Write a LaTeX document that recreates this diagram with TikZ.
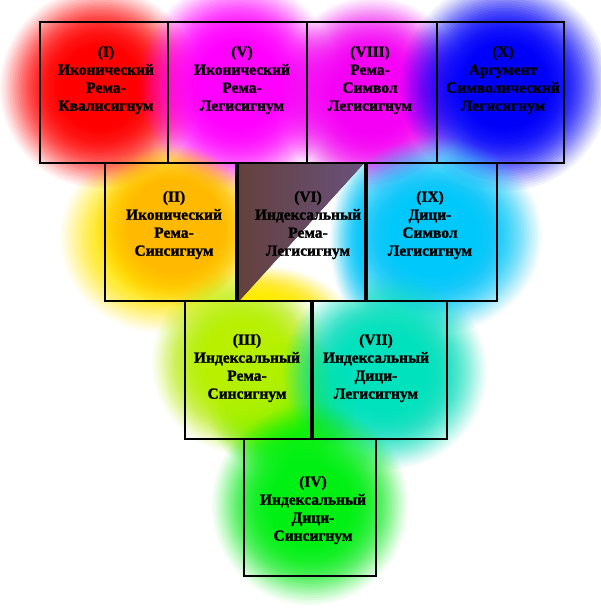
\documentclass[tikz,border=0pt]{standalone}
\usepackage{fontspec}
\setmainfont{Liberation Serif}[BoldFeatures={FakeBold=1.3}]
\definecolor{cI}{RGB}{255,0,0}
\definecolor{cV}{RGB}{255,0,255}
\definecolor{cVIII}{RGB}{245,0,245}
\definecolor{cX}{RGB}{0,0,250}
\definecolor{cIIy}{RGB}{255,235,0}
\definecolor{cIIo}{RGB}{255,185,0}
\definecolor{cIX}{RGB}{0,200,250}
\definecolor{cIII}{RGB}{185,240,0}
\definecolor{cIIIg}{RGB}{60,240,0}
\definecolor{cVII}{RGB}{0,225,190}
\definecolor{cIV}{RGB}{0,240,20}
\definecolor{vidarkA}{RGB}{100,65,60}
\definecolor{vidarkB}{RGB}{105,80,125}
\newcommand\myglow[5]{%
  \foreach \k in {1,...,30}{%
    \pgfmathsetmacro\myop{0.04+0.2*(1-\k/31)}%
    \fill[#1,opacity=\myop] (#2,#3) ellipse [x radius={#4*(0.3+0.7*\k/30)}, y radius={#5*(0.3+0.7*\k/30)}];
  }}
\tikzset{
  box/.style={draw=black, line width=1.6pt, minimum width=#1, minimum height=138pt, inner sep=0pt, outer sep=0pt},
  thickline/.style={line width=4.5pt, draw=black},
  label/.style={align=center, font=\bfseries\fontsize{15.5}{18}\selectfont, text=black, inner sep=0pt}
}
\begin{document}
\begin{tikzpicture}[x=1pt,y=-1pt]
\useasboundingbox (0,0) rectangle (601,611);
\fill[white] (0,0) rectangle (601,611);
% glows
\myglow{cIIy}{162}{238}{102}{95}
\myglow{cI}{100}{88}{100}{100}
\myglow{cV}{238}{85}{100}{105}
\myglow{cVIII}{372}{95}{95}{98}
\myglow{cX}{505}{86}{105}{105}
\myglow{cIIo}{175}{226}{80}{80}
\myglow{cIX}{434}{236}{108}{98}
\myglow{cIIIg}{285}{405}{78}{72}
\myglow{cIII}{242}{362}{90}{92}
\myglow{cVII}{385}{372}{102}{98}
\myglow{cIV}{310}{505}{98}{100}
% VI special box
\begin{scope}
  \clip (237,163) rectangle (366,301);
  \fill[white] (237,163) rectangle (366,301);
  \myglow{cIX}{390}{240}{60}{100}
  \myglow{cIIy}{255}{320}{95}{55}
  \fill[left color=vidarkA, right color=vidarkB] (237,163) -- (364,163) -- (239,301) -- (237,301) -- cycle;
\end{scope}
% boxes
\node[box=128pt, minimum height=141pt] (b1) at (104,92.5) {};
\node[box=139pt, minimum height=141pt] (b5) at (237.5,92.5) {};
\node[box=130pt, minimum height=141pt] (b8) at (372,92.5) {};
\node[box=127pt, minimum height=141pt] (b10) at (500.5,92.5) {};
\node[box=132pt] (b2) at (171,232) {};
\node[box=129pt] (b6) at (301.5,232) {};
\node[box=131pt] (b9) at (431.5,232) {};
\node[box=127pt] (b3) at (248.5,370) {};
\node[box=135pt] (b7) at (379.5,370) {};
\node[box=132pt, minimum height=137pt] (b4) at (310,507.5) {};
% thick dividers
\draw[thickline] (b6.north west) -- (b6.south west);
\draw[thickline] (b6.north east) -- (b6.south east);
\draw[thickline] (b7.north west) -- (b7.south west);
% labels
\node[label] (t1) at (106,80) {(I)\\Иконический\\Рема-\\Квалисигнум};
\node[label] (t5) at (242,80) {(V)\\Иконический\\Рема-\\Легисигнум};
\node[label] (t8) at (370,80) {(VIII)\\Рема-\\Символ\\Легисигнум};
\node[label] (t10) at (503,80) {(X)\\Аргумент\\Символический\\Легисигнум};
\node[label] (t2) at (174,225) {(II)\\Иконический\\Рема-\\Синсигнум};
\node[label] (t6) at (308,225) {(VI)\\Индексальный\\Рема-\\Легисигнум};
\node[label] (t9) at (430,225) {(IX)\\Дици-\\Символ\\Легисигнум};
\node[label] (t3) at (247,368) {(III)\\Индексальный\\Рема-\\Синсигнум};
\node[label] (t7) at (376,368) {(VII)\\Индексальный\\Дици-\\Легисигнум};
\node[label] (t4) at (313,510) {(IV)\\Индексальный\\Дици-\\Синсигнум};
\end{tikzpicture}
\end{document}
